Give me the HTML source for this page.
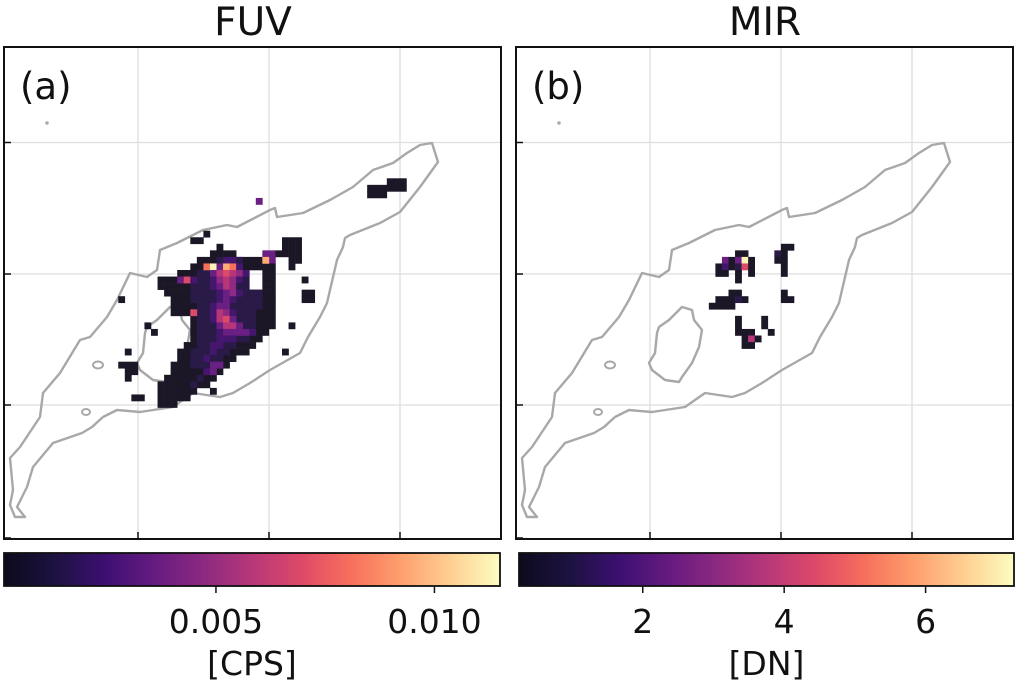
<!DOCTYPE html>
<html><head><meta charset="utf-8"><style>
html,body{margin:0;padding:0;background:#fff;width:1020px;height:684px;overflow:hidden}
svg text{font-family:"DejaVu Sans","Liberation Sans",sans-serif;fill:#111}
</style></head><body>
<svg id="fig" width="1020" height="684" viewBox="0 0 1020 684" xmlns="http://www.w3.org/2000/svg">
<defs>
<linearGradient id="magma" x1="0" x2="1" y1="0" y2="0">
<stop offset="0" stop-color="#0d0a1c"/><stop offset="0.1" stop-color="#1c1240"/><stop offset="0.2" stop-color="#3b0f70"/><stop offset="0.3" stop-color="#641a80"/><stop offset="0.4" stop-color="#8c2981"/><stop offset="0.5" stop-color="#b73779"/><stop offset="0.6" stop-color="#de4968"/><stop offset="0.7" stop-color="#f7705c"/><stop offset="0.8" stop-color="#fe9f6d"/><stop offset="0.9" stop-color="#fecf92"/><stop offset="1" stop-color="#fcfdbf"/>
</linearGradient>
</defs>
<g id="panels"></g>
</svg>
<script>
// FUV runs: [row, startCol, endCol, level]
const fuvRuns = [[0,42,44,0],[1,39,44,0],[2,39,41,0],[3,22,22,3],[8,14,14,0],[9,12,13,0],[9,26,28,0],[10,16,16,0],[10,26,28,0],
[11,15,18,0],[11,23,24,3],[11,25,28,0],[12,13,22,0],[12,23,24,3],[12,27,28,0],[13,12,22,0],[13,23,24,0],[13,27,27,0],
[14,10,20,0],[14,23,24,0],[15,7,20,0],[15,23,24,0],[15,29,29,0],[16,7,20,0],[16,23,24,0],[17,8,24,0],[17,29,30,0],
[18,9,24,0],[18,1,1,0],[18,29,30,0],[19,9,24,0],[20,9,24,0],[21,12,24,0],[22,5,5,0],[22,12,24,0],[22,27,27,0],
[23,6,6,0],[23,12,23,0],[24,12,22,0],[25,11,21,0],[26,10,20,0],[26,2,2,0],[26,26,26,0],[27,10,18,0],[28,9,17,0],
[28,1,3,0],[29,9,16,0],[29,2,3,0],[30,8,15,0],[30,2,2,0],[31,7,14,0],[32,7,12,0],[32,15,15,0],[33,3,4,0],[33,7,11,0],[34,7,9,0],
[14,13,20,1],[15,13,20,1],[16,12,20,1],[17,12,22,1],[18,12,22,1],[19,13,22,1],[20,13,21,1],[21,13,21,1],[22,13,21,1],[23,13,21,1],[24,13,20,1],[25,13,18,1],[26,12,17,1],[27,12,16,1],[28,12,16,1]];
// FUV bright cells: [row, col, level]
const fuvSpots = [[12,23,8],[12,17,2],[12,18,2],[12,16,1],[12,19,1],[13,14,7],[13,15,9],[13,16,3],[13,17,8],[13,18,7],[13,19,2],
[14,15,3],[14,16,5],[14,17,6],[14,18,5],[14,19,4],[14,20,2],[15,10,3],[15,11,6],[15,12,2],[15,15,2],[15,16,4],[15,17,5],[15,18,4],[15,19,2],
[16,15,2],[16,16,3],[16,17,5],[16,18,4],[16,19,1],[17,16,2],[17,17,3],[17,18,4],[17,19,2],[18,15,1],[18,16,2],[18,17,3],[18,18,2],
[19,15,2],[19,16,3],[19,17,3],[20,12,6],[20,15,2],[20,16,5],[20,17,4],[20,18,2],[21,15,2],[21,16,5],[21,17,6],[21,18,3],
[22,16,3],[22,17,5],[22,18,5],[22,19,3],[23,16,2],[23,17,3],[23,18,3],[23,19,3],[23,20,3],[23,21,2],[24,16,2],[24,17,2],[24,18,2],
[25,15,2],[25,16,2],[26,14,1],[26,15,2],[27,14,2],[27,15,1],[28,15,3],[28,16,3],[29,14,2],[29,15,3],[30,13,1],[31,12,1]];
// MIR cells: [row, col, level]
const mirCells = [[10,24,0],[10,25,0],[11,17,0],[11,18,0],[11,23,1],[11,24,0],[12,15,3],[12,16,0],[12,17,3],[12,18,9],[12,19,0],[12,23,0],[12,24,0],
[13,14,0],[13,15,2],[13,16,0],[13,17,1],[13,18,6],[13,19,0],[13,24,0],[14,14,0],[14,15,0],[14,17,0],[14,19,0],[14,24,0],[15,17,0],
[17,16,0],[17,17,0],[17,24,0],[18,14,0],[18,15,0],[18,16,0],[18,17,1],[18,18,0],[18,24,0],[18,25,0],[19,13,0],[19,14,0],[19,15,0],[19,16,0],
[21,17,0],[21,21,0],[22,17,0],[22,21,0],[23,17,0],[23,18,0],[23,19,0],[23,22,0],[24,18,0],[24,19,5],[24,20,0],[25,18,0],[25,19,0]];
const fuvTicks = [0.005, 0.010];
const fuvTickLabels = ["0.005", "0.010"];
const mirTicks = [2, 4, 6];
const mirTickLabels = ["2", "4", "6"];

const palette = ["#1c1726","#2a1a48","#45166e","#6a1f82","#8e2a81","#b63679","#dc4a6a","#f6705c","#fdab74","#fcf3b8"];
const NS = "http://www.w3.org/2000/svg";
const root = document.getElementById("panels");
function mk(tag, attrs, parent){const e=document.createElementNS(NS,tag);for(const k in attrs)e.setAttribute(k,attrs[k]);(parent||root).appendChild(e);return e;}
const CELL=6.55, Y0=178.3;
const contour="M432,143 L438,162 L420,187 L400,212 L380,223 L350,235 L345,238 L343,247 L337,260 L330,290 L327,303 L320,317 L308,337 L300,353 L270,370 L250,383 L233,393 L220,397 L193,393 L173,407 L140,412 L117,410 L103,417 L92,427 L82,433 L53,443 L33,467 L27,487 L17,507 L25,517 L15,517 L10,505 L13,490 L10,458 L20,447 L40,417 L43,393 L60,373 L80,340 L90,337 L107,317 L117,300 L130,273 L147,277 L157,270 L160,250 L177,243 L203,230 L227,225 L237,227 L270,210 L275,208 L277,217 L303,213 L330,200 L353,187 L373,170 L393,163 L407,153 L420,145 Z";
const lake="M147,327 L157,320 L170,307 L180,310 L182,320 L190,330 L187,347 L180,363 L170,377 L167,382 L153,380 L140,370 L137,363 L143,353 L145,333 Z";

function panel(off, title, letter, name){
  const g=mk("g",{transform:"translate("+off+",0)"});
  
  
  const t=mk("text",{x:253,y:35,"font-size":39,"text-anchor":"middle"},g);t.textContent=title;
  
  
  [138,269,400].forEach(x=>{const l=mk("line",{x1:x,x2:x,y1:47,y2:539,stroke:"#ddd","stroke-width":1.3},g);
    });
  [142.5,274,405].forEach(y=>{const l=mk("line",{x1:4,x2:501,y1:y,y2:y,stroke:"#ddd","stroke-width":1.3},g);
    });
  const c=mk("path",{d:contour,fill:"none",stroke:"#a8a8a8","stroke-width":2.4,"stroke-linejoin":"round"},g);
  
  const lk=mk("path",{d:lake,fill:"none",stroke:"#a8a8a8","stroke-width":2.4,"stroke-linejoin":"round"},g);
  
  const e1=mk("ellipse",{cx:98,cy:365,rx:5,ry:3.5,fill:"none",stroke:"#a8a8a8","stroke-width":2},g);
  
  const e2=mk("ellipse",{cx:86,cy:412,rx:4,ry:3,fill:"none",stroke:"#a8a8a8","stroke-width":2},g);
  
  const d=mk("circle",{cx:47,cy:123,r:1.8,fill:"#aaa"},g);
  
  const hm=mk("g",{},g);
  
  
  const lt=mk("text",{x:20,y:99,"font-size":37},g);lt.textContent=letter;
  
  const fr=mk("rect",{x:4,y:47,width:497,height:492,fill:"none",stroke:"#111","stroke-width":2},g);
  
  [138,269,400].forEach(x=>{const l=mk("line",{x1:x,x2:x,y1:539,y2:532,stroke:"#111","stroke-width":1.5},g);
    });
  [142.5,274,405,538].forEach(y=>{const l=mk("line",{x1:4,x2:11,y1:y,y2:y,stroke:"#111","stroke-width":1.5},g);
    });
  return hm;
}
function cell(hm,r,c,lv){
  const rc=mk("rect",{x:111.7+c*CELL,y:Y0+r*CELL,width:CELL+0.3,height:CELL+0.3,fill:palette[lv]},hm);
  
  
}
const hmA=panel(0,"FUV","(a)","fuv");
fuvRuns.forEach(([r,a,b,lv])=>{for(let c=a;c<=b;c++)cell(hmA,r,c,lv);});
fuvSpots.forEach(([r,c,lv])=>cell(hmA,r,c,lv));
const hmB=panel(512,"MIR","(b)","mir");
mirCells.forEach(([r,c,lv])=>cell(hmB,r,c,lv));

function colorbar(x0,x1,vmin,vmax,ticks,labels,unit,name){
  const g=mk("g",{});
  
  
  const bar=mk("rect",{x:x0,y:553,width:x1-x0,height:33,fill:"url(#magma)",stroke:"#111","stroke-width":1.8},g);
  
  const sx=v=>x0+(v-vmin)/(vmax-vmin)*(x1-x0);
  ticks.forEach((v,i)=>{
    const x=sx(v);
    const l=mk("line",{x1:x,x2:x,y1:586,y2:593,stroke:"#111","stroke-width":1.5},g);
    
    const t=mk("text",{x:x,y:633,"font-size":33,"text-anchor":"middle"},g);t.textContent=labels[i];
    
  });
  const u=mk("text",{x:(x0+x1)/2,y:675,"font-size":33,"text-anchor":"middle"},g);u.textContent=unit;
  
}
colorbar(4,500,0.00015,0.0115,fuvTicks,fuvTickLabels,"[CPS]","fuv");
colorbar(519,1014,0.25,7.25,mirTicks,mirTickLabels,"[DN]","mir");
</script>
</body></html>
